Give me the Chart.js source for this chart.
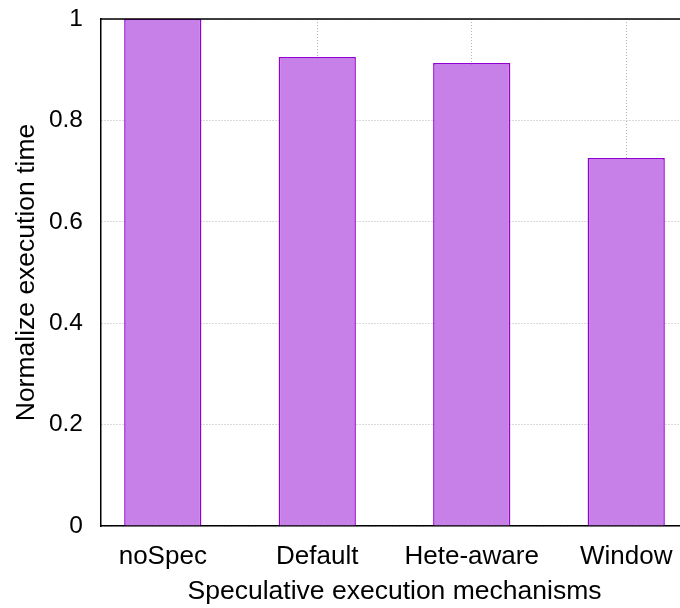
<!DOCTYPE html>
<html>
<head>
<meta charset="utf-8">
<script src="https://cdn.jsdelivr.net/npm/chart.js@4/dist/chart.umd.min.js"></script>
<style>
    html, body { margin: 0; padding: 0; background: #fff; }
    #wrap { width: 680px; height: 608px; overflow: hidden; }
    canvas { display: block; }
</style>
</head>
<body>
<div id="wrap"><canvas id="chart" width="690" height="608"></canvas></div>
<script>
// Data
const categories = ['noSpec', 'Default', 'Hete-aware', 'Window'];
const execTime = [1.0, 0.925, 0.913, 0.726];
const yTicks = [0, 0.2, 0.4, 0.6, 0.8, 1];

const family = '"Liberation Sans", Arial, sans-serif';
const gridColor = '#b4b4b4';

const points = categories.map((c, i) => ({ x: i, y: execTime[i] }));

// gnuplot-style top border line of the plot box
const topBorder = {
    id: 'topBorder',
    afterDraw(chart) {
        const { ctx, chartArea } = chart;
        ctx.save();
        ctx.strokeStyle = '#000';
        ctx.lineWidth = 1.5;
        ctx.beginPath();
        ctx.moveTo(chartArea.left, chartArea.top);
        ctx.lineTo(chartArea.right, chartArea.top);
        ctx.stroke();
        ctx.restore();
    }
};

new Chart(document.getElementById('chart'), {
    type: 'bar',
    data: {
        datasets: [{
            data: points,
            backgroundColor: '#c880e9',
            borderColor: '#9400d3',
            borderWidth: 1.5,
            categoryPercentage: 1,
            barPercentage: 0.5
        }]
    },
    options: {
        responsive: false,
        animation: false,
        layout: { padding: { top: 19, right: 2, bottom: 0, left: 0 } },
        plugins: { legend: { display: false }, tooltip: { enabled: false } },
        scales: {
            x: {
                type: 'linear',
                position: 'bottom',
                offset: false,
                min: -0.4,
                max: 3.4,
                afterBuildTicks: scale => { scale.ticks = categories.map((c, i) => ({ value: i })); },
                afterFit: scale => { scale.height = 82; },
                grid: { color: gridColor, lineWidth: 1, drawTicks: false, offset: false },
                border: { display: true, color: '#000', width: 1.5, dash: [1, 2] },
                ticks: {
                    color: '#000', font: { family, size: 26 }, padding: 15, maxRotation: 0,
                    callback: v => categories[v] ?? ''
                },
                title: {
                    display: true, text: 'Speculative execution mechanisms',
                    color: '#000', font: { family, size: 26.5 }, padding: { top: 0, bottom: 0 }
                }
            },
            y: {
                min: 0,
                max: 1,
                afterBuildTicks: scale => { scale.ticks = yTicks.map(v => ({ value: v })); },
                afterFit: scale => {
                    scale.width = 101;
                    scale.paddingTop = 0;
                    scale.paddingBottom = 0;
                },
                grid: { color: gridColor, lineWidth: 1, drawTicks: false },
                border: { display: true, color: '#000', width: 1.5, dash: [1, 2] },
                ticks: {
                    color: '#000', font: { family, size: 24.5 }, padding: 18,
                    callback: v => String(Math.round(v * 10) / 10)
                },
                title: {
                    display: true, text: 'Normalize execution time',
                    color: '#000', font: { family, size: 26.5 }, padding: { top: 11, bottom: 0 }
                }
            }
        }
    },
    plugins: [topBorder]
});
</script>
</body>
</html>
